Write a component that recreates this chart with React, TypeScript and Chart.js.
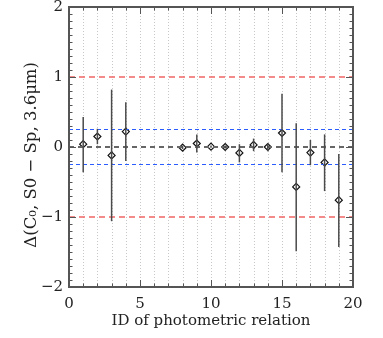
import React, { useEffect, useRef } from "react";
import { Chart, registerables } from "chart.js";

Chart.register(...registerables);

const ids = [1, 2, 3, 4, 8, 9, 10, 11, 12, 13, 14, 15, 16, 17, 18, 19];
const values = [0.04, 0.15, -0.12, 0.22, -0.01, 0.05, 0.005, 0.0, -0.085, 0.03, 0.0, 0.2, -0.57, -0.08, -0.22, -0.76];
const errHigh = [0.43, 0.26, 0.82, 0.64, 0.02, 0.18, 0.02, 0.02, 0.04, 0.12, 0.05, 0.76, 0.34, 0.1, 0.18, -0.1];
const errLow = [-0.36, 0.04, -1.06, -0.2, -0.03, -0.08, -0.01, -0.02, -0.22, -0.06, -0.06, -0.36, -1.49, -0.26, -0.63, -1.43];

const redLevels = [1, -1];
const blueLevels = [0.25, -0.25];
const greyLevels = [0];
const xRange = [0, 20];
const yRange = [-2, 2];

const FONT = "'DejaVu Serif', serif";

const framePlugin = {
  id: "frameTicks",
  beforeDatasetsDraw(chart: any) {
    const { ctx, chartArea, scales } = chart;
    const x = scales.x;
    ctx.save();
    ctx.strokeStyle = "#c8c8c8";
    ctx.lineWidth = 1;
    ctx.setLineDash([1, 2]);
    for (let i = xRange[0] + 1; i < xRange[1]; i++) {
      const px = Math.round(x.getPixelForValue(i)) + 0.5;
      ctx.beginPath();
      ctx.moveTo(px, chartArea.top);
      ctx.lineTo(px, chartArea.bottom);
      ctx.stroke();
    }
    ctx.restore();
  },
  afterDatasetsDraw(chart: any) {
    const { ctx, scales } = chart;
    const x = scales.x;
    const y = scales.y;
    ctx.save();
    ctx.strokeStyle = "#4a4a4a";
    ctx.lineWidth = 1.5;
    ids.forEach((id, i) => {
      const px = x.getPixelForValue(id);
      ctx.beginPath();
      ctx.moveTo(px, y.getPixelForValue(errLow[i]));
      ctx.lineTo(px, y.getPixelForValue(errHigh[i]));
      ctx.stroke();
    });
    ctx.restore();
  },
  afterDraw(chart: any) {
    const { ctx, chartArea, scales } = chart;
    const { left, right, top, bottom } = chartArea;
    const x = scales.x;
    const y = scales.y;
    ctx.save();
    ctx.strokeStyle = "#555";
    ctx.lineWidth = 1;
    for (let k = yRange[0] * 10; k <= yRange[1] * 10; k++) {
      const py = Math.round(y.getPixelForValue(k / 10)) + 0.5;
      const len = k % 10 === 0 ? 7 : 3.5;
      ctx.beginPath();
      ctx.moveTo(left, py);
      ctx.lineTo(left + len, py);
      ctx.moveTo(right, py);
      ctx.lineTo(right - len, py);
      ctx.stroke();
    }
    for (let k = xRange[0]; k <= xRange[1]; k++) {
      const px = Math.round(x.getPixelForValue(k)) + 0.5;
      const len = k % 5 === 0 ? 7 : 3.5;
      ctx.beginPath();
      ctx.moveTo(px, bottom);
      ctx.lineTo(px, bottom - len);
      ctx.moveTo(px, top);
      ctx.lineTo(px, top + len);
      ctx.stroke();
    }
    ctx.lineWidth = 2;
    ctx.strokeStyle = "#555";
    ctx.strokeRect(left, top, right - left, bottom - top);
    ctx.restore();
  },
};

function hline(level: number, color: string, dash: number[], width: number) {
  return {
    type: "line" as const,
    data: [
      { x: xRange[0], y: level },
      { x: xRange[1], y: level },
    ],
    borderColor: color,
    borderWidth: width,
    borderDash: dash,
    pointRadius: 0,
    fill: false,
  };
}

export default function App() {
  const ref = useRef<HTMLCanvasElement>(null);
  useEffect(() => {
    document.body.style.margin = "0";
    const datasets: any[] = [
      ...redLevels.map((l) => hline(l, "rgba(240,110,110,0.8)", [6, 4], 2)),
      ...blueLevels.map((l) => hline(l, "#2a5cff", [4, 3], 1)),
      ...greyLevels.map((l) => hline(l, "#666", [5, 4], 2)),
      {
        type: "scatter",
        data: ids.map((id, i) => ({ x: id, y: values[i] })),
        pointStyle: "rectRot",
        pointRadius: 3.5,
        borderColor: "#111",
        backgroundColor: "#fff",
        borderWidth: 1.2,
      },
    ];
    const chart = new Chart(ref.current!, {
      type: "scatter",
      data: { datasets },
      plugins: [framePlugin],
      options: {
        animation: false,
        responsive: false,
        maintainAspectRatio: false,
        layout: { padding: { left: 0, right: 30, top: 7, bottom: 0 } },
        plugins: { legend: { display: false }, tooltip: { enabled: false } },
        scales: {
          x: {
            type: "linear",
            min: xRange[0],
            max: xRange[1],
            grid: { display: false, drawTicks: false },
            border: { display: false },
            ticks: { stepSize: 5, color: "#222", font: { family: FONT, size: 15 }, padding: 8 },
            title: {
              display: true,
              text: "ID of photometric relation",
              color: "#222",
              font: { family: FONT, size: 15 },
              padding: { top: 0, bottom: 8 },
            },
            afterFit(scale: any) {
              scale.height = 51;
              scale.paddingLeft = 0;
              scale.paddingRight = 0;
            },
          },
          y: {
            type: "linear",
            min: yRange[0],
            max: yRange[1],
            grid: { display: false, drawTicks: false },
            border: { display: false },
            ticks: {
              stepSize: 1,
              color: "#222",
              font: { family: FONT, size: 15 },
              padding: 6,
              callback: (v: any) => (v < 0 ? "\u2212" + Math.abs(v) : String(v)),
            },
            title: {
              display: true,
              text: "\u0394(C\u2080, S0 \u2212 Sp, 3.6\u03bcm)   ",
              color: "#222",
              font: { family: FONT, size: 16.5 },
              padding: { top: 22, bottom: 0 },
            },
            afterFit(scale: any) {
              scale.width = 69;
              scale.paddingTop = 0;
              scale.paddingBottom = 0;
            },
          },
        },
      },
    });
    return () => chart.destroy();
  }, []);
  return <canvas ref={ref} width={383} height={338} style={{ display: "block" }} />;
}
